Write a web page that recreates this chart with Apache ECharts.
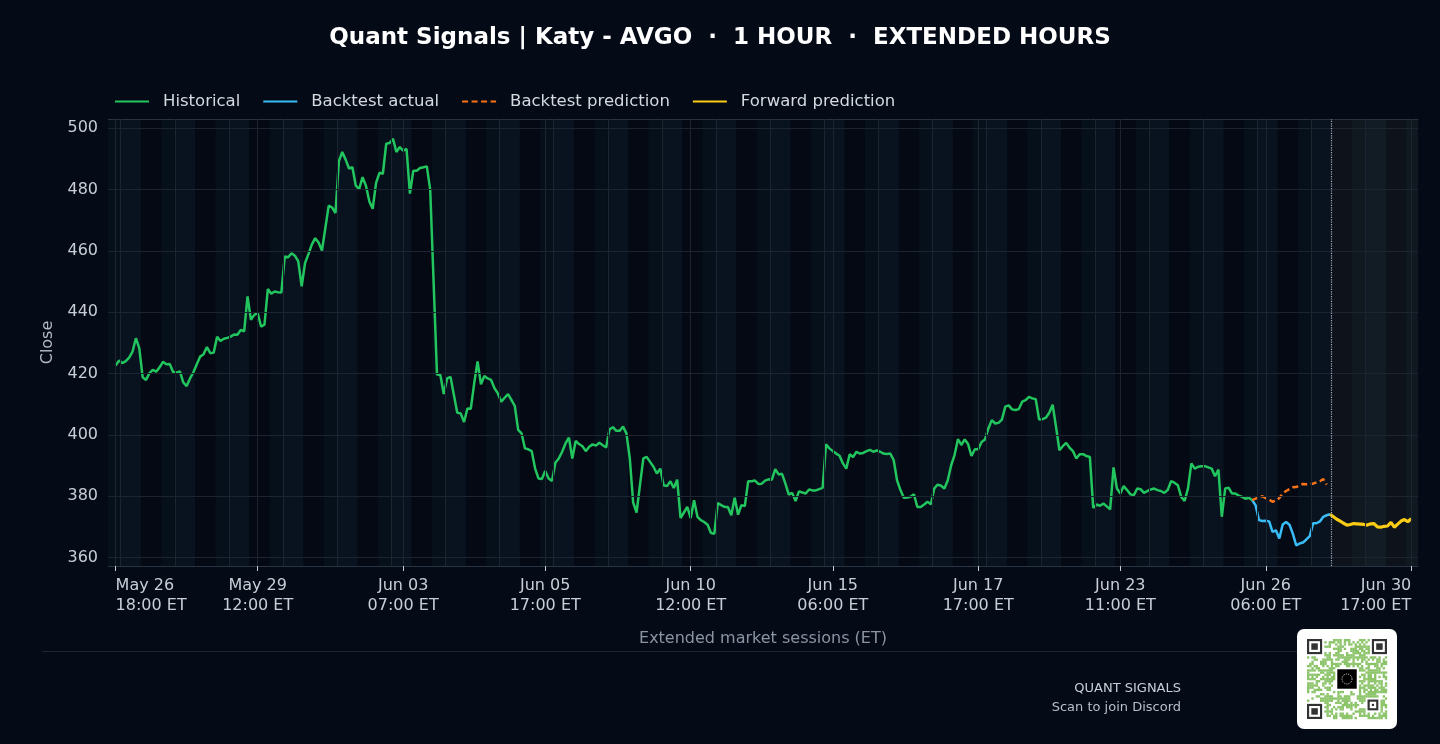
<!DOCTYPE html>
<html>
<head>
<meta charset="utf-8">
<title>AVGO 1 hour extended hours</title>
<script src="https://cdn.jsdelivr.net/npm/echarts@6/dist/echarts.min.js"></script>
<style>
  html, body { margin: 0; padding: 0; background: #050a17; }
  #chart { width: 1440px; height: 744px; }
</style>
</head>
<body>
<div id="chart"></div>
<script>
// one close per extended-hours bar (x = bar index)
const historicalStart = 0;
const historical = [
  422.6, 424.2, 423.4, 424.0, 425.2, 427.1, 431.5, 428.2, 418.8, 417.9,
  420.1, 421.2, 420.6, 422.0, 423.8, 423.0, 423.1, 420.5, 420.3, 420.7,
  417.1, 415.9, 418.4, 420.4, 423.0, 425.5, 426.3, 428.6, 426.6, 426.8,
  432.0, 430.6, 431.3, 431.6, 432.0, 432.7, 432.6, 434.2, 433.7, 445.1,
  437.5, 439.1, 439.7, 435.3, 435.9, 447.5, 446.0, 446.7, 446.5, 446.4,
  458.1, 457.9, 459.2, 458.4, 456.5, 448.4, 456.0, 458.9, 462.0, 464.1,
  462.7, 460.1, 467.4, 474.7, 474.1, 472.3, 489.2, 492.2, 489.7, 486.8,
  487.2, 481.2, 480.1, 484.0, 481.2, 476.1, 473.7, 482.1, 485.4, 485.1,
  494.9, 495.1, 496.5, 492.2, 493.8, 492.6, 493.2, 478.6, 486.1, 486.1,
  487.0, 487.2, 487.5, 479.9, 449.9, 419.7, 419.5, 413.3, 418.4, 418.9,
  413.0, 407.2, 407.0, 404.2, 408.6, 408.5, 416.8, 423.9, 416.5, 419.2,
  418.4, 417.9, 415.2, 413.5, 410.8, 412.1, 413.3, 411.4, 409.4, 401.6,
  400.5, 395.6, 395.3, 394.7, 389.1, 385.8, 385.6, 388.2, 385.8, 385.0,
  390.9, 392.3, 394.5, 397.2, 399.1, 392.3, 398.0, 397.0, 396.3, 394.7,
  396.1, 396.9, 396.5, 397.4, 396.6, 395.9, 401.8, 402.5, 401.3, 401.3,
  402.7, 400.5, 392.3, 377.9, 374.7, 383.6, 392.3, 392.8, 391.2, 389.6,
  387.4, 389.0, 383.6, 383.3, 384.9, 382.7, 385.4, 372.9, 374.7, 376.5,
  372.9, 378.7, 373.3, 372.2, 371.6, 370.7, 368.0, 367.8, 377.8, 377.1,
  376.5, 376.5, 373.8, 379.5, 374.0, 377.1, 376.8, 384.9, 384.9, 385.1,
  384.0, 384.1, 385.1, 385.5, 385.4, 388.8, 387.1, 387.3, 384.1, 380.5,
  381.1, 378.4, 381.6, 381.2, 380.9, 382.2, 381.9, 381.9, 382.3, 382.7,
  396.9, 395.6, 394.7, 393.9, 393.2, 390.7, 389.0, 393.7, 392.8, 394.5,
  393.9, 394.1, 394.7, 395.1, 394.5, 394.9, 394.5, 393.9, 393.8, 393.9,
  391.8, 385.2, 382.0, 379.5, 379.6, 379.8, 380.6, 376.5, 376.5, 377.3,
  378.2, 377.4, 382.5, 383.8, 383.4, 382.5, 385.2, 390.1, 393.4, 398.6,
  396.7, 398.5, 397.0, 393.1, 395.3, 395.3, 397.7, 398.5, 402.1, 404.8,
  403.7, 403.9, 405.0, 409.2, 409.6, 408.3, 408.1, 408.4, 410.8, 411.3,
  412.4, 411.9, 411.6, 405.0, 405.1, 405.6, 407.2, 409.8, 402.6, 395.0,
  396.3, 397.4, 395.8, 394.7, 392.3, 393.7, 393.7, 393.1, 392.8, 376.2,
  377.3, 376.9, 377.6, 376.7, 375.7, 389.4, 382.5, 380.9, 383.3, 382.0,
  380.6, 380.3, 382.5, 382.3, 381.1, 381.7, 382.2, 382.5, 382.0, 381.7,
  381.1, 382.0, 384.9, 384.4, 383.6, 379.8, 378.5, 382.5, 390.7, 389.0,
  389.6, 389.8, 389.8, 389.4, 389.0, 386.5, 388.7, 373.3, 382.5, 382.8,
  380.9, 380.9, 380.2, 379.8, 379.2, 379.5, 378.7
];

const backtestStart = 336;
const backtestActual = [
  378.7, 377.0, 372.2, 371.9, 372.0, 371.8, 368.4, 368.9, 366.2, 370.8,
  371.6, 370.7, 367.8, 364.0, 364.6, 364.9, 365.9, 367.0, 371.2, 371.2,
  371.8, 373.3, 373.8, 374.1
];
const backtestPrediction = [
  378.7, 379.2, 379.8, 380.0, 379.4, 378.9, 378.2, 378.6, 379.4, 380.9,
  381.7, 382.3, 382.9, 383.0, 383.5, 384.0, 383.9, 384.0, 384.1, 384.5,
  384.9, 385.6, 383.8
];

const forwardStart = 359;
const forwardPrediction = [
  374.1, 373.3, 372.5, 371.9, 371.2, 370.6, 370.8, 371.1, 371.0, 370.9,
  370.8, 370.6, 371.0, 371.1, 370.0, 369.9, 370.2, 370.3, 371.5, 369.9,
  370.9, 371.9, 372.4, 371.7, 372.7
];

const xTickBars = [0, 42, 85, 127, 170, 212, 255, 297, 340, 383];
const xTickLabels = [
  'May 26\n18:00 ET', 'May 29\n12:00 ET', 'Jun 03\n07:00 ET', 'Jun 05\n17:00 ET', 'Jun 10\n12:00 ET',
  'Jun 15\n06:00 ET', 'Jun 17\n17:00 ET', 'Jun 23\n11:00 ET', 'Jun 26\n06:00 ET', 'Jun 30\n17:00 ET'
];
const yTicks = [360, 380, 400, 420, 440, 460, 480, 500];

// session day starts (04:00 bar boundary)
const dayBreaks = [
  1.5, 17.5, 33.5, 49.5, 65.5, 81.5, 97.5, 113.5, 129.5, 145.5, 161.5, 177.5,
  193.5, 209.5, 225.5, 241.5, 257.5, 273.5, 289.5, 305.5, 321.5, 337.5, 353.5, 369.5
];
const forecastFrom = 359.5;

const X_MIN = -2.25, X_MAX = 385;
const FONT = 'DejaVu Sans';
const GRID_LINE = '#1c2431';
const SPINE = '#2a3341';

function toPairs(start, values) {
  return values.map((v, k) => [start + k, v]);
}

// pre-market / after-hours shading
function sessionBands() {
  const pre = '#08131f', post = '#06101b';
  const out = [[{ xAxis: X_MIN, itemStyle: { color: post } }, { xAxis: dayBreaks[0] }]];
  dayBreaks.forEach(b => {
    out.push([{ xAxis: b, itemStyle: { color: pre } }, { xAxis: Math.min(b + 6, X_MAX) }]);
    if (b + 12 < X_MAX) out.push([{ xAxis: b + 12, itemStyle: { color: post } }, { xAxis: Math.min(b + 16, X_MAX) }]);
  });
  out.push([{ xAxis: forecastFrom, itemStyle: { color: 'rgba(255,225,170,0.045)' } }, { xAxis: X_MAX }]);
  return out;
}

function buildQr(left, top, box) {
  const n = 37;
  const cell = (box - 20) / n;
  const x0 = left + 10, y0 = top + 10;
  const els = [{ type: 'rect', shape: { x: left, y: top, width: box, height: box, r: 7 }, style: { fill: '#ffffff' } }];
  const reserved = (r, c) =>
    (r < 8 && c < 8) || (r < 8 && c > n - 9) || (r > n - 9 && c < 8) ||
    (r >= 27 && r <= 33 && c >= 27 && c <= 33) || (r >= 13 && r <= 23 && c >= 13 && c <= 23);
  for (let r = 0; r < n; r++) {
    for (let c = 0; c < n; c++) {
      if (reserved(r, c)) continue;
      const h = Math.imul(((r + 3) * 2971) ^ ((c + 5) * 6151), 2654435761) >>> 0;
      if ((h >>> 20) % 16 < 9) {
        els.push({ type: 'rect', shape: { x: x0 + c * cell, y: y0 + r * cell, width: cell + 0.2, height: cell + 0.2 }, style: { fill: '#8cc46a' } });
      }
    }
  }
  const square = (r, c, s, fill) => els.push({ type: 'rect', shape: { x: x0 + c * cell, y: y0 + r * cell, width: s * cell, height: s * cell }, style: { fill } });
  [[0, 0], [0, n - 7], [n - 7, 0]].forEach(([r, c]) => {
    square(r, c, 7, '#333333'); square(r + 1, c + 1, 5, '#ffffff'); square(r + 2, c + 2, 3, '#333333');
  });
  square(28, 28, 5, '#333333'); square(29, 29, 3, '#ffffff'); square(30, 30, 1, '#333333');
  square(14, 14, 9, '#000000');
  els.push({ type: 'circle', shape: { cx: x0 + 18.5 * cell, cy: y0 + 18.5 * cell, r: 5 },
    style: { fill: 'none', stroke: '#ffffff', lineWidth: 0.8, lineDash: [1, 1] } });
  return { type: 'group', children: els };
}

const chart = echarts.init(document.getElementById('chart'));

const option = {
  backgroundColor: '#050a17',
  animation: false,
  title: {
    text: 'Quant Signals | Katy - AVGO  \u00b7  1 HOUR  \u00b7  EXTENDED HOURS',
    left: 'center',
    top: 22,
    textStyle: { color: '#ffffff', fontSize: 23, fontWeight: 'bold', fontFamily: FONT }
  },
  legend: {
    data: ['Historical', 'Backtest actual', 'Backtest prediction', 'Forward prediction'],
    left: 114,
    top: 93,
    padding: 0,
    itemWidth: 34,
    itemHeight: 14,
    itemGap: 22,
    itemStyle: { opacity: 0 },
    textStyle: { color: '#d5d9e0', fontSize: 16.5, fontFamily: FONT, padding: [0, 0, 0, 9] }
  },
  grid: {
    left: 108, right: 22, top: 119, bottom: 178,
    outerBoundsMode: 'none', containLabel: false,
    show: true, backgroundColor: '#040914', borderWidth: 0
  },
  xAxis: [{
    type: 'value',
    min: X_MIN,
    max: X_MAX,
    position: 'bottom',
    z: 1.5,
    axisLine: { show: true, lineStyle: { color: SPINE } },
    axisTick: { show: true, customValues: xTickBars, length: 5, lineStyle: { color: '#c9ced6' } },
    axisLabel: {
      customValues: xTickBars,
      formatter: v => xTickLabels[xTickBars.indexOf(Math.round(v))] || '',
      alignMinLabel: 'left',
      alignMaxLabel: 'right',
      color: '#c9ced6', fontSize: 16, lineHeight: 20, margin: 10, fontFamily: FONT
    },
    splitLine: { show: false },
    name: 'Extended market sessions (ET)',
    nameLocation: 'middle',
    nameGap: 65,
    nameTextStyle: { color: '#8b94a3', fontSize: 16, fontFamily: FONT }
  }, {
    type: 'value', min: X_MIN, max: X_MAX, position: 'top', z: 1.5,
    axisLine: { show: true, lineStyle: { color: SPINE } },
    axisTick: { show: false }, axisLabel: { show: false }, splitLine: { show: false }
  }],
  yAxis: [{
    type: 'value',
    min: 357.26,
    max: 502.94,
    z: 1.5,
    axisLine: { show: true, lineStyle: { color: SPINE } },
    axisTick: { show: true, customValues: yTicks, length: 5, lineStyle: { color: '#c9ced6' } },
    axisLabel: { customValues: yTicks, color: '#c9ced6', fontSize: 16, margin: 10, fontFamily: FONT },
    splitLine: { show: false },
    name: 'Close',
    nameLocation: 'middle',
    nameGap: 52,
    nameRotate: 90,
    nameTextStyle: { color: '#b4bac4', fontSize: 16, fontFamily: FONT }
  }, {
    type: 'value', min: 357.26, max: 502.94, position: 'right', z: 1.5,
    axisLine: { show: true, lineStyle: { color: SPINE } },
    axisTick: { show: false }, axisLabel: { show: false }, splitLine: { show: false }
  }],
  series: [
    {
      name: 'sessions', type: 'line', data: [], silent: true, z: 1,
      markArea: { silent: true, data: sessionBands() }
    },
    {
      name: 'gridlines', type: 'line', data: [], silent: true, z: 1.2,
      markLine: {
        silent: true, symbol: ['none', 'none'], label: { show: false },
        lineStyle: { color: GRID_LINE, width: 1, type: 'solid' },
        data: [
          ...dayBreaks.map(b => ({ xAxis: b })),
          ...xTickBars.map(b => ({ xAxis: b })),
          ...yTicks.map(v => ({ yAxis: v }))
        ]
      }
    },
    {
      name: 'Historical', type: 'line', symbol: 'none', z: 3,
      data: toPairs(historicalStart, historical),
      itemStyle: { color: '#22c55e' },
      lineStyle: { color: '#22c55e', width: 2.5 }
    },
    {
      name: 'Backtest actual', type: 'line', symbol: 'none', z: 3,
      data: toPairs(backtestStart, backtestActual),
      itemStyle: { color: '#38bdf8' },
      lineStyle: { color: '#38bdf8', width: 2.5 }
    },
    {
      name: 'Backtest prediction', type: 'line', symbol: 'none', z: 3,
      data: toPairs(backtestStart, backtestPrediction),
      itemStyle: { color: '#f97316' },
      lineStyle: { color: '#f97316', width: 2.5, type: [6, 3.5] }
    },
    {
      name: 'Forward prediction', type: 'line', symbol: 'none', z: 3,
      data: toPairs(forwardStart, forwardPrediction),
      itemStyle: { color: '#facc15' },
      lineStyle: { color: '#facc15', width: 3.2 },
      markLine: {
        silent: true, symbol: ['none', 'none'], label: { show: false },
        lineStyle: { color: '#a9b0bb', width: 1.2, type: 'dotted' },
        data: [{ xAxis: forecastFrom }]
      }
    }
  ],
  graphic: [
    { type: 'line', shape: { x1: 42, y1: 651.5, x2: 1397, y2: 651.5 }, style: { stroke: '#1f2735', lineWidth: 1 } },
    { type: 'text', x: 1181, y: 689, style: { text: 'QUANT SIGNALS', fill: '#c9ced6', font: '13px "DejaVu Sans"', align: 'right', verticalAlign: 'middle' } },
    { type: 'text', x: 1181, y: 708, style: { text: 'Scan to join Discord', fill: '#b9bfc9', font: '13px "DejaVu Sans"', align: 'right', verticalAlign: 'middle' } },
    buildQr(1297, 629, 100)
  ]
};

chart.setOption(option);
</script>
</body>
</html>
